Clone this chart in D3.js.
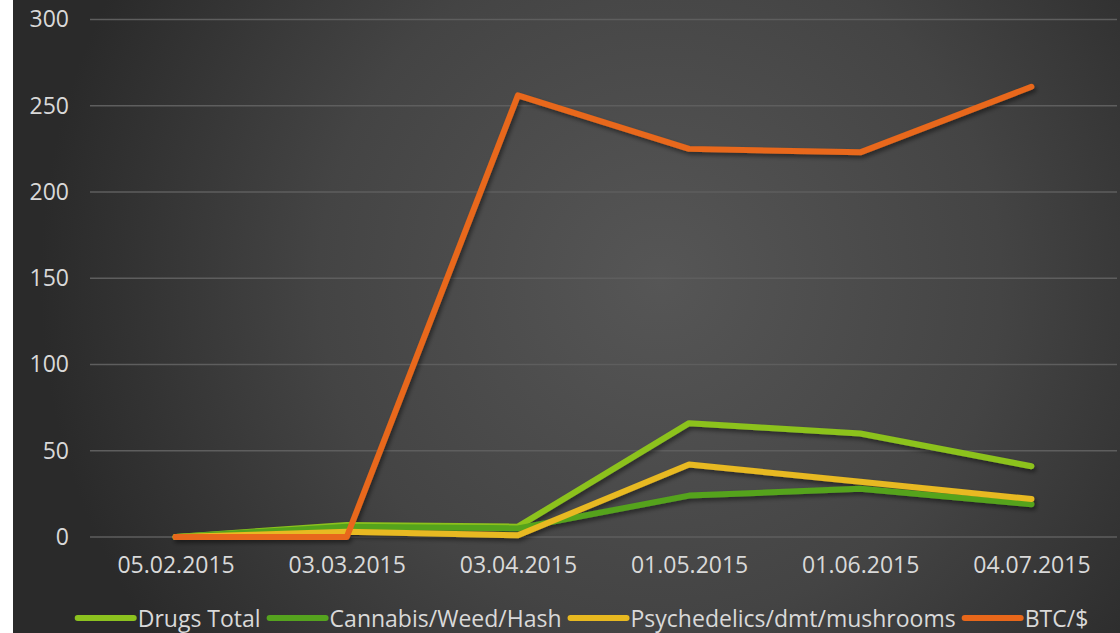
<!DOCTYPE html>
<html><head><meta charset="utf-8">
<script src="https://cdn.jsdelivr.net/npm/d3@7"></script>
<style>html,body{margin:0;padding:0;background:#fff;}svg{display:block;}</style>
</head><body>
<svg id="chart" width="1120" height="633"></svg>
<script>
const categories = ["05.02.2015","03.03.2015","03.04.2015","01.05.2015","01.06.2015","04.07.2015"];
const seriesNames = ["Drugs Total","Cannabis/Weed/Hash","Psychedelics/dmt/mushrooms","BTC/$"];
const drugsTotal = [0, 7, 6, 66, 60, 41];
const cannabis = [0, 6, 5, 24, 28, 19];
const psychedelics = [0, 3, 1, 42, 32, 22];
const btc = [0, 0, 256, 225, 223, 261];
const yTicks = [0, 50, 100, 150, 200, 250, 300];
const colors = ["#8cc21f", "#55a31e", "#e8b920", "#e8671a"];

const series = [drugsTotal, cannabis, psychedelics, btc];
const W = 1120, H = 633;
const svg = d3.select("#chart");
const defs = svg.append("defs");
const rg = defs.append("radialGradient").attr("id","bg").attr("gradientUnits","userSpaceOnUse")
  .attr("cx",660).attr("cy",280).attr("r",620);
rg.append("stop").attr("offset","0").attr("stop-color","#565656");
rg.append("stop").attr("offset","0.55").attr("stop-color","#444444");
rg.append("stop").attr("offset","1").attr("stop-color","#2a2a2a");
const f = defs.append("filter").attr("id","sh").attr("x","-10%").attr("y","-10%").attr("width","120%").attr("height","130%");
f.append("feDropShadow").attr("dx",2).attr("dy",3).attr("stdDeviation",2).attr("flood-color","#000").attr("flood-opacity",0.45);

svg.append("rect").attr("x",13).attr("y",0).attr("width",W-13).attr("height",H).attr("fill","url(#bg)");

const x = d3.scalePoint().domain(categories).range([90,1117]).padding(0.5);
const y = d3.scaleLinear().domain([0,300]).range([537,19.5]);

const font = "'Open Sans', sans-serif";
const fs = "23px";
// gridlines
svg.append("g").selectAll("line").data(yTicks).join("line")
  .attr("x1",90).attr("x2",1117).attr("y1",d=>y(d)).attr("y2",d=>y(d))
  .attr("stroke","#5e5e5e").attr("stroke-width",1.5);

// y axis
const yAxis = d3.axisLeft(y).tickValues(yTicks).tickSize(0).tickPadding(0);
const gy = svg.append("g").attr("transform","translate(69,0)").call(yAxis);
gy.select(".domain").remove();
gy.selectAll("text").attr("fill","#d9d9d9").style("font-family",font).style("font-size",fs);

// x axis
const xAxis = d3.axisBottom(x).tickSize(0).tickPadding(0);
const gx = svg.append("g").attr("transform","translate(0,557)").call(xAxis);
gx.select(".domain").remove();
gx.selectAll("text").attr("fill","#d9d9d9").style("font-family",font).style("font-size",fs).attr("dy","0.71em");

// lines
const line = d3.line().x((d,i)=>x(categories[i])).y(d=>y(d));
svg.append("g").attr("filter","url(#sh)").selectAll("path").data(series).join("path")
  .attr("d",line).attr("fill","none").attr("stroke",(d,i)=>colors[i])
  .attr("stroke-width",6).attr("stroke-linecap","round").attr("stroke-linejoin","round");

// legend
const lg = svg.append("g");
let cx = 0;
seriesNames.forEach((n,i)=>{
  const g = lg.append("g");
  g.append("line").attr("x1",0).attr("x2",56).attr("y1",0).attr("y2",0)
    .attr("stroke",colors[i]).attr("stroke-width",6).attr("stroke-linecap","round");
  const t = g.append("text").attr("x",60).attr("y",9).text(n).attr("fill","#d9d9d9")
    .style("font-family",font).style("font-size",fs);
  const w = 60 + t.node().getComputedTextLength();
  g.attr("transform",`translate(${cx},0)`);
  cx += w + 9;
});
const total = cx - 9;
lg.attr("transform",`translate(${583 - total/2},618)`);
</script>
</body></html>
